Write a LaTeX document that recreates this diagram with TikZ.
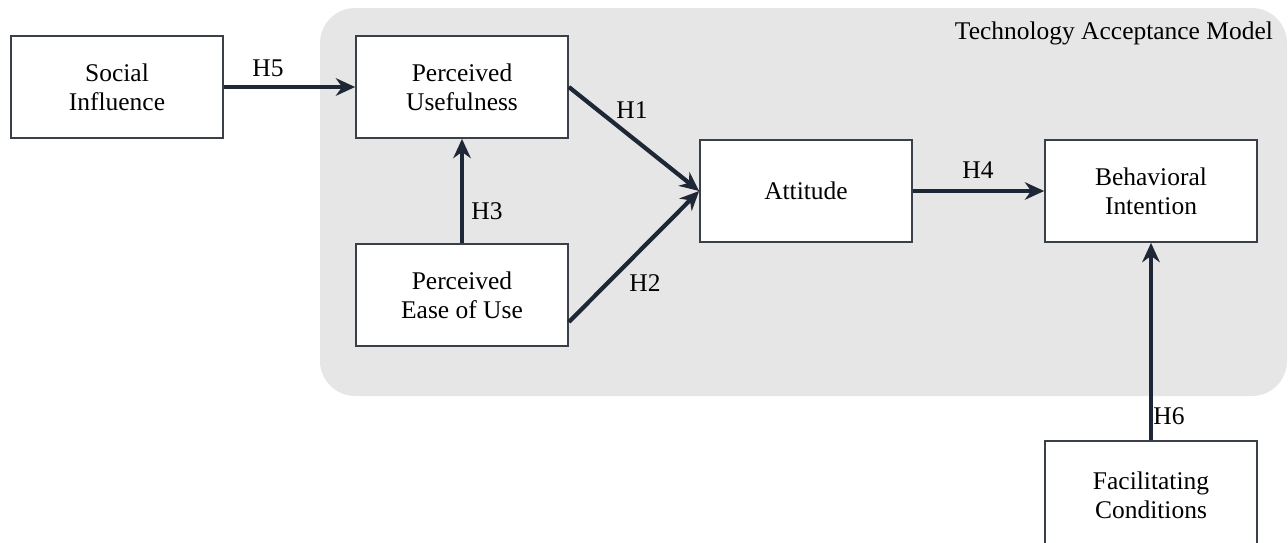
\documentclass[tikz,border=0pt]{standalone}
\usepackage{fontspec}
\setmainfont{Liberation Serif}
\usepackage{tikz}
\usetikzlibrary{arrows.meta, positioning}
\definecolor{panel}{HTML}{E6E6E6}
\definecolor{borde}{HTML}{3A404A}
\definecolor{flechacol}{HTML}{1E2735}
\tikzset{
  every picture/.style={font=\rmfamily\fontsize{14.5}{16.5}\selectfont, >=Stealth},
  caja/.style={draw=borde, fill=white, line width=1pt, rectangle,
               minimum width=4.24cm, minimum height=2.04cm, align=center, inner sep=2pt},
  flecha/.style={-{Stealth[length=11pt, width=10pt]}, line width=2.4pt, flechacol},
  etiqueta/.style={inner sep=1pt},
}
\begin{document}
\begin{tikzpicture}[x=0.02cm, y=-0.02cm]
  \useasboundingbox (0,0) rectangle (1288,542);
  \clip (0,0) rectangle (1288,542);
  % panel del modelo
  \fill[panel, rounded corners=20pt] (320,8) rectangle (1287,396);
  \node[anchor=north east, etiqueta] (TAM) at (1275,20) {Technology Acceptance Model};
  % constructos
  \node[caja] (SI) at (117,87) {Social\\Influence};
  \node[caja] (PU) at (462,87) {Perceived\\Usefulness};
  \node[caja] (PEU) at (462,295) {Perceived\\Ease of Use};
  \node[caja] (ATT) at (806,191) {Attitude};
  \node[caja] (BI) at (1151,191) {Behavioral\\Intention};
  \node[caja, minimum height=2.16cm] (FC) at (1151,495) {Facilitating\\Conditions};
  % hipotesis
  \draw[flecha] (SI.east) -- (PU.west);
  \draw[flecha] (PU.east) -- (ATT.west);
  \draw[flecha] (PEU.east |- 0,322) -- (ATT.west);
  \draw[flecha] (PEU.north) -- (PU.south);
  \draw[flecha] (ATT.east) -- (BI.west);
  \draw[flecha] (FC.north) -- (BI.south);
  \node[etiqueta] (H5) at (268,68) {H5};
  \node[etiqueta] (H1) at (632,110) {H1};
  \node[etiqueta] (H2) at (645,283) {H2};
  \node[etiqueta] (H3) at (487,211) {H3};
  \node[etiqueta] (H4) at (978,170) {H4};
  \node[etiqueta] (H6) at (1169,416) {H6};
\end{tikzpicture}
\end{document}
